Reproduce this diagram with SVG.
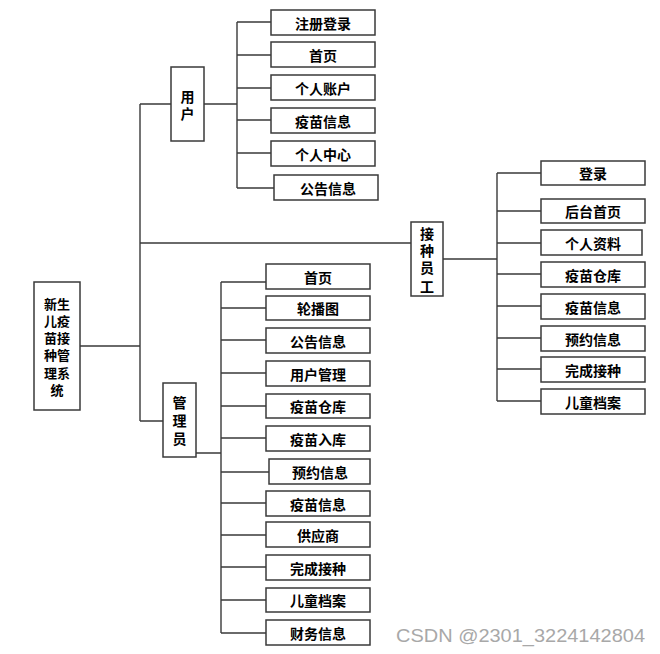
<svg xmlns="http://www.w3.org/2000/svg" width="660" height="654" viewBox="0 0 660 654">
<style>
.b{fill:#fff;stroke:#3a3a3a;stroke-width:1.5}
.t{font-family:"Noto Sans CJK SC","Liberation Sans",sans-serif;font-size:14px;font-weight:bold;fill:#000;text-anchor:middle;dominant-baseline:central}
.r{font-size:13px}
.c{fill:none;stroke:#3a3a3a;stroke-width:1.4}
.w{font-family:"Liberation Sans",Arial,sans-serif;font-size:19px;fill:#a8a8a8}
</style>
<rect width="660" height="654" fill="#fff"/>
<g id="connectors" class="c">
<path d="M80 346H140M140 104V421M140 104H171M140 243H411M140 421H163"/>
<path d="M204 104H237M237 22V188M237 22H271M237 55H271M237 88H271M237 120H271M237 153H271M237 188H274"/>
<path d="M443 259H497M497 173V401M497 173H541M497 211H541M497 243H541M497 274H541M497 306H541M497 338H541M497 369H541M497 401H541"/>
<path d="M196 453H221M221 282V633M221 282H266M221 308H266M221 340H266M221 373H266M221 406H266M221 438H266M221 472H269M221 503H266M221 535H266M221 567H266M221 600H266M221 633H266"/>
</g>
<g id="root"><rect class="b" x="34" y="282" width="46" height="128"/>
<text class="t r"><tspan x="57" y="303">新生</tspan><tspan x="57" y="320">儿疫</tspan><tspan x="57" y="337">苗接</tspan><tspan x="57" y="354">种管</tspan><tspan x="57" y="372">理系</tspan><tspan x="57" y="389">统</tspan></text></g>
<g id="user"><rect class="b" x="171" y="67" width="33" height="74"/><text class="t"><tspan x="187.5" y="96">用</tspan><tspan x="187.5" y="113">户</tspan></text></g>
<g id="staff"><rect class="b" x="411" y="222" width="32" height="74"/><text class="t"><tspan x="427" y="233">接</tspan><tspan x="427" y="250">种</tspan><tspan x="427" y="267">员</tspan><tspan x="427" y="286">工</tspan></text></g>
<g id="admin"><rect class="b" x="163" y="383" width="33" height="74"/><text class="t"><tspan x="179.5" y="402">管</tspan><tspan x="179.5" y="420">理</tspan><tspan x="179.5" y="438">员</tspan></text></g>
<g id="u1"><rect class="b" x="271" y="10" width="104" height="25"/><text class="t" x="323" y="22.5">注册登录</text></g>
<g id="u2"><rect class="b" x="271" y="42" width="104" height="25"/><text class="t" x="323" y="54.5">首页</text></g>
<g id="u3"><rect class="b" x="271" y="75" width="104" height="25"/><text class="t" x="323" y="87.5">个人账户</text></g>
<g id="u4"><rect class="b" x="271" y="108" width="104" height="25"/><text class="t" x="323" y="120.5">疫苗信息</text></g>
<g id="u5"><rect class="b" x="271" y="141" width="104" height="25"/><text class="t" x="323" y="153.5">个人中心</text></g>
<g id="u6"><rect class="b" x="274" y="175" width="104" height="25"/><text class="t" x="328" y="187.5">公告信息</text></g>
<g id="s1"><rect class="b" x="541" y="161" width="104" height="24"/><text class="t" x="593" y="173">登录</text></g>
<g id="s2"><rect class="b" x="541" y="199" width="104" height="24"/><text class="t" x="593" y="211">后台首页</text></g>
<g id="s3"><rect class="b" x="541" y="230" width="101" height="25"/><text class="t" x="593" y="242.5">个人资料</text></g>
<g id="s4"><rect class="b" x="541" y="262" width="104" height="25"/><text class="t" x="593" y="274.5">疫苗仓库</text></g>
<g id="s5"><rect class="b" x="541" y="294" width="104" height="25"/><text class="t" x="593" y="306.5">疫苗信息</text></g>
<g id="s6"><rect class="b" x="541" y="326" width="104" height="25"/><text class="t" x="593" y="338.5">预约信息</text></g>
<g id="s7"><rect class="b" x="541" y="357" width="104" height="25"/><text class="t" x="593" y="369.5">完成接种</text></g>
<g id="s8"><rect class="b" x="541" y="389" width="104" height="25"/><text class="t" x="593" y="401.5">儿童档案</text></g>
<g id="a1"><rect class="b" x="266" y="264" width="104" height="25"/><text class="t" x="318" y="276.5">首页</text></g>
<g id="a2"><rect class="b" x="266" y="296" width="104" height="24"/><text class="t" x="318" y="308">轮播图</text></g>
<g id="a3"><rect class="b" x="266" y="328" width="104" height="25"/><text class="t" x="318" y="340.5">公告信息</text></g>
<g id="a4"><rect class="b" x="266" y="361" width="104" height="25"/><text class="t" x="318" y="373.5">用户管理</text></g>
<g id="a5"><rect class="b" x="266" y="394" width="104" height="24"/><text class="t" x="318" y="406">疫苗仓库</text></g>
<g id="a6"><rect class="b" x="266" y="426" width="104" height="25"/><text class="t" x="318" y="438.5">疫苗入库</text></g>
<g id="a7"><rect class="b" x="269" y="459" width="101" height="25"/><text class="t" x="320" y="471.5">预约信息</text></g>
<g id="a8"><rect class="b" x="266" y="491" width="104" height="25"/><text class="t" x="318" y="503.5">疫苗信息</text></g>
<g id="a9"><rect class="b" x="266" y="522" width="104" height="25"/><text class="t" x="318" y="534.5">供应商</text></g>
<g id="a10"><rect class="b" x="266" y="555" width="104" height="25"/><text class="t" x="318" y="567.5">完成接种</text></g>
<g id="a11"><rect class="b" x="266" y="588" width="104" height="24"/><text class="t" x="318" y="600">儿童档案</text></g>
<g id="a12"><rect class="b" x="266" y="620" width="104" height="25"/><text class="t" x="318" y="632.5">财务信息</text></g>
<text class="w" x="396" y="642" textLength="249" lengthAdjust="spacingAndGlyphs">CSDN @2301_3224142804</text>
</svg>
